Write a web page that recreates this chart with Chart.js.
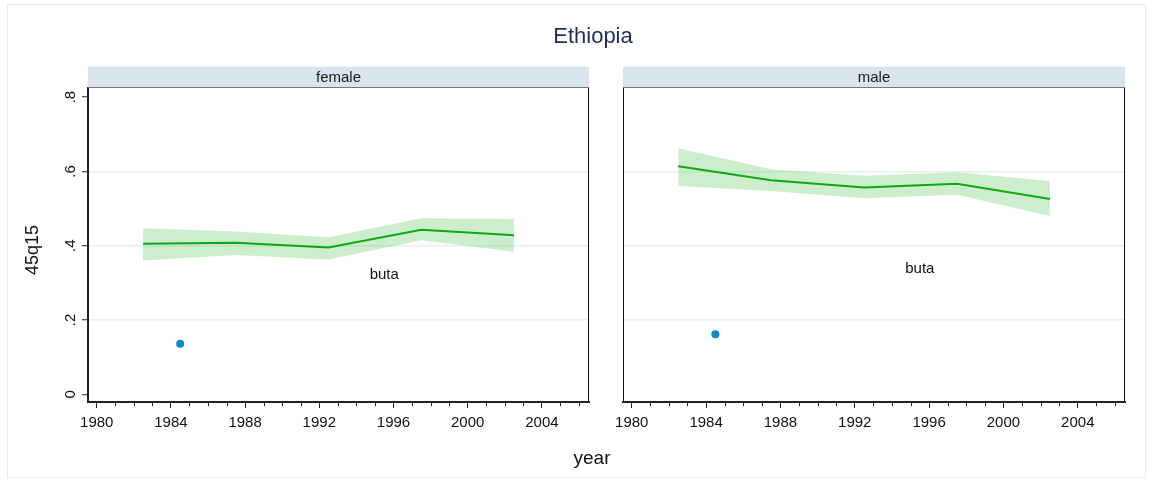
<!DOCTYPE html>
<html>
<head>
<meta charset="utf-8">
<title>Ethiopia 45q15</title>
<script src="https://cdn.jsdelivr.net/npm/chart.js@4.4.1/dist/chart.umd.min.js"></script>
<style>
  html, body { margin: 0; padding: 0; background: #fff; }
  #wrap { position: relative; width: 1152px; height: 481px; overflow: hidden;
          font-family: "Liberation Sans", Arial, Helvetica, sans-serif; }
  #wrap canvas { position: absolute; left: 0; top: 0; }
  .frame { position: absolute; left: 7px; top: 4px; width: 1139px; height: 474px;
           border: 1px solid #e6edf0; box-sizing: border-box; }
  .txt { position: absolute; white-space: nowrap; line-height: 1; color: #111; }
  #title { left: 593px; top: 35.7px; font-size: 22px; color: #1e2d5c; transform: translate(-50%, -50%); }
  #xtitle { left: 592px; top: 456.7px; font-size: 19px; transform: translate(-50%, -50%); }
  #ytitle { left: 31.8px; top: 250px; font-size: 18px; transform: translate(-50%, -50%) rotate(-90deg); }
</style>
</head>
<body>
<div id="wrap">
  <div class="frame"></div>
  <canvas id="cFemale" width="1152" height="481"></canvas>
  <canvas id="cMale" width="1152" height="481"></canvas>
  <div class="txt" id="title">Ethiopia</div>
  <div class="txt" id="xtitle">year</div>
  <div class="txt" id="ytitle">45q15</div>
</div>
<script>
// ---- data ----
const panels = ['female', 'male'];
const years = [1982.5, 1987.5, 1992.5, 1997.5, 2002.5];

const femaleMean  = [0.405, 0.408, 0.395, 0.443, 0.428];
const femaleUpper = [0.447, 0.438, 0.423, 0.474, 0.472];
const femaleLower = [0.360, 0.375, 0.363, 0.415, 0.384];

const maleMean  = [0.614, 0.576, 0.557, 0.567, 0.526];
const maleUpper = [0.662, 0.606, 0.588, 0.598, 0.574];
const maleLower = [0.561, 0.547, 0.528, 0.537, 0.480];

const sourceName = 'buta';
const sourceYear = [1984.5];
const femaleSource = [0.136];
const maleSource = [0.162];
// where the source name is written, in data units: [year, value]
const femaleSourceLabel = [1995.5, 0.321];
const maleSourceLabel = [1995.5, 0.339];

const yTicks = [0, 0.2, 0.4, 0.6, 0.8];
const yTickLabels = ['0', '.2', '.4', '.6', '.8'];
const yGridAt = [0.2, 0.4, 0.6];
const xMajorTicks = [1980, 1984, 1988, 1992, 1996, 2000, 2004];
const xMinorTicks = [1981, 1982, 1983, 1985, 1986, 1987, 1989, 1990, 1991, 1993, 1994, 1995,
                     1997, 1998, 1999, 2001, 2002, 2003, 2005, 2006];

// ---- styling ----
const FONT = '"Liberation Sans", Arial, Helvetica, sans-serif';
Chart.defaults.font.family = FONT;
Chart.defaults.color = '#111';

const X_MIN = 1979.53, X_MAX = 2006.54;
const Y_MIN = -0.0207, Y_MAX = 0.8245;
const LINE_GREEN = '#10a810';
const BAND_GREEN = 'rgba(60,190,60,0.26)';
const DOT_BLUE = '#0b8cc2';
const AXIS = '#222';

const pts = (xs, ys) => xs.map((x, i) => ({ x: x, y: ys[i] }));

// strip header, plot frame, minor ticks and the source label
const panelDecor = {
  id: 'panelDecor',
  afterDatasetsDraw(chart, args, o) {
    const ctx = chart.ctx;
    const xs = chart.scales.x, ys = chart.scales.y;
    ctx.save();
    ctx.fillStyle = '#111';
    ctx.font = '15px ' + FONT;
    ctx.textAlign = 'center';
    ctx.textBaseline = 'middle';
    ctx.fillText(o.labelText, xs.getPixelForValue(o.labelAt[0]), ys.getPixelForValue(o.labelAt[1]));
    ctx.restore();
  },
  afterDraw(chart, args, o) {
    const ctx = chart.ctx;
    const a = chart.chartArea;
    const xs = chart.scales.x;
    ctx.save();
    // strip
    const sh = 21.3;
    ctx.fillStyle = '#d9e5ec';
    ctx.fillRect(a.left, a.top - sh, a.right - a.left, sh);
    ctx.strokeStyle = '#777';
    ctx.lineWidth = 1;
    ctx.beginPath();
    ctx.moveTo(a.left, a.top - 0.5);
    ctx.lineTo(a.right, a.top - 0.5);
    ctx.stroke();
    ctx.fillStyle = '#1a1a1a';
    ctx.font = '15px ' + FONT;
    ctx.textAlign = 'center';
    ctx.textBaseline = 'middle';
    ctx.fillText(o.name, (a.left + a.right) / 2, a.top - sh / 2 + 0.5);
    // right frame edge
    ctx.strokeStyle = '#111';
    ctx.beginPath();
    ctx.moveTo(a.right - 0.5, a.top);
    ctx.lineTo(a.right - 0.5, a.bottom);
    ctx.stroke();
    // minor x ticks
    ctx.strokeStyle = AXIS;
    ctx.lineWidth = 1;
    xMinorTicks.forEach(v => {
      const px = Math.round(xs.getPixelForValue(v)) + 0.5;
      ctx.beginPath();
      ctx.moveTo(px, a.bottom);
      ctx.lineTo(px, a.bottom + 4);
      ctx.stroke();
    });
    ctx.restore();
  }
};

function makePanel(canvasId, name, mean, upper, lower, source, labelAt, isLeft) {
  const padLeft = isLeft ? 0 : 623;
  const padRight = isLeft ? 1152 - 589 : 1152 - 1125;
  return new Chart(document.getElementById(canvasId), {
    type: 'line',
    data: {
      datasets: [
        { label: 'upper', data: pts(years, upper), borderWidth: 0, borderColor: 'rgba(0,0,0,0)',
          pointRadius: 0, backgroundColor: BAND_GREEN, fill: '+1', order: 3 },
        { label: 'lower', data: pts(years, lower), borderWidth: 0, borderColor: 'rgba(0,0,0,0)',
          pointRadius: 0, fill: false, order: 4 },
        { label: 'estimate', data: pts(years, mean), borderColor: LINE_GREEN, borderWidth: 2,
          pointRadius: 0, fill: false, tension: 0, order: 1 },
        { label: sourceName, type: 'scatter', data: pts(sourceYear, source), showLine: false,
          pointRadius: 4, pointBackgroundColor: DOT_BLUE, pointBorderColor: DOT_BLUE,
          pointBorderWidth: 0, order: 0 }
      ]
    },
    options: {
      responsive: false,
      animation: false,
      devicePixelRatio: 1,
      layout: { padding: { left: padLeft, right: padRight, top: 88, bottom: 0 } },
      plugins: {
        legend: { display: false },
        tooltip: { enabled: false },
        title: { display: false },
        panelDecor: { name: name, labelText: sourceName, labelAt: labelAt }
      },
      scales: {
        x: {
          type: 'linear', min: X_MIN, max: X_MAX,
          afterBuildTicks: s => { s.ticks = xMajorTicks.map(v => ({ value: v })); },
          afterFit: s => { s.height = 481 - 402; },
          grid: { display: true, drawOnChartArea: false, drawTicks: true, tickLength: 6,
                  tickColor: AXIS, tickWidth: 1, color: AXIS },
          border: { display: true, color: AXIS, width: 2 },
          ticks: { font: { size: 15 }, color: '#111', padding: 6, maxRotation: 0, minRotation: 0,
                   autoSkip: false, callback: v => String(v) }
        },
        y: {
          type: 'linear', min: Y_MIN, max: Y_MAX,
          afterBuildTicks: s => { s.ticks = yTicks.map(v => ({ value: v })); },
          afterFit: s => { s.width = isLeft ? 88 : 0; },
          grid: {
            display: true, drawTicks: isLeft, tickLength: 6, tickColor: AXIS, tickWidth: 1,
            lineWidth: 1.5,
            color: c => (c.tick && yGridAt.some(g => Math.abs(g - c.tick.value) < 1e-9))
              ? '#e9f0f1' : 'rgba(0,0,0,0)'
          },
          border: { display: true, color: isLeft ? AXIS : '#111', width: isLeft ? 2 : 1 },
          ticks: {
            display: isLeft, font: { size: 15 }, color: '#111', padding: 5,
            minRotation: 90, maxRotation: 90, crossAlign: 'center',
            callback: (v, i) => yTickLabels[yTicks.indexOf(v)] ?? ''
          }
        }
      }
    },
    plugins: [panelDecor]
  });
}

makePanel('cFemale', panels[0], femaleMean, femaleUpper, femaleLower, femaleSource, femaleSourceLabel, true);
makePanel('cMale', panels[1], maleMean, maleUpper, maleLower, maleSource, maleSourceLabel, false);
</script>
</body>
</html>
